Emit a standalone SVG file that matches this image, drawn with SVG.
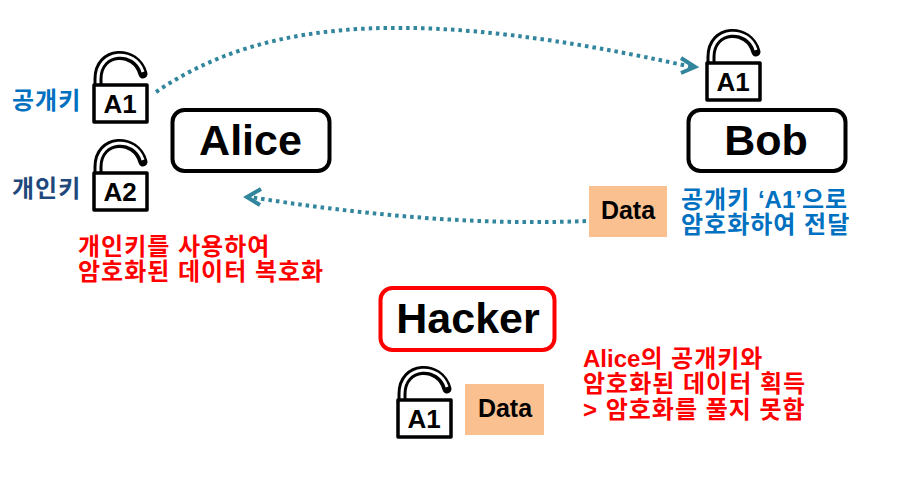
<svg xmlns="http://www.w3.org/2000/svg" width="907" height="492" viewBox="0 0 907 492">
<style>
text{font-family:"Liberation Sans","Noto Sans CJK KR",sans-serif;font-weight:700}
.node{fill:#fff;stroke:#000;stroke-width:4}
.name{font-size:43px;text-anchor:middle;fill:#000}
.ko{font-size:24px;letter-spacing:1px}
.lat{letter-spacing:0}
.red{fill:#f00}.blue{fill:#0070c0}.navy{fill:#1f497d}
.lbl{font-size:26px;text-anchor:middle;fill:#000}
.data{font-size:25px;text-anchor:middle;fill:#000}
.box{fill:#fac090}
.flow{fill:none;stroke:#31859c;stroke-width:4;stroke-dasharray:3.5 4}
.head{fill:none;stroke:#31859c;stroke-width:4}
.lock{fill:#fff;stroke:#000;stroke-width:3.5;stroke-linejoin:round}
.sh1{fill:none;stroke:#000;stroke-width:9;stroke-linecap:round}
.sh2{fill:none;stroke:#fff;stroke-width:3}
</style>
<defs>
<g id="lk">
<path class="sh1" d="M4 1V-6C4-36 42-37 49-11"/>
<path class="sh2" d="M4 1V-6C4-36 42-37 49-13"/>
<rect class="lock" x="0" y="0" width="53" height="37"/>
</g>
</defs>
<g id="connectors">
<path class="flow" d="M156 92C270 14 430 9 692 67"/>
<path class="head" d="M681 58L695 67L681 73"/>
<path class="flow" d="M586 221C470 226 350 213 250 197"/>
<path class="head" d="M261 189L247 197L260 205"/>
</g>
<g id="alice"><rect class="node" x="172.500" y="110" width="157" height="61" rx="12"/><text class="name" x="250.500" y="155">Alice</text></g>
<g id="bob"><rect class="node" x="688.500" y="110" width="157" height="61" rx="12"/><text class="name" x="766" y="155">Bob</text></g>
<g id="hacker"><rect class="node" style="stroke:#f00" x="380.500" y="288" width="174" height="62" rx="12"/><text class="name" x="468" y="333">Hacker</text></g>
<g id="lock-a1-alice"><use href="#lk" x="94" y="85"/><text class="lbl" x="120" y="113">A1</text></g>
<g id="lock-a2-alice"><use href="#lk" x="94" y="173"/><text class="lbl" x="120" y="201">A2</text></g>
<g id="lock-a1-bob"><use href="#lk" x="707" y="63"/><text class="lbl" x="733" y="91">A1</text></g>
<g id="lock-a1-hacker"><use href="#lk" x="398" y="400"/><text class="lbl" x="424" y="428">A1</text></g>
<g id="data-bob"><rect class="box" x="589" y="186" width="78" height="51"/><text class="data" x="628" y="219">Data</text></g>
<g id="data-hacker"><rect class="box" x="465" y="384" width="79" height="51"/><text class="data" x="505" y="417">Data</text></g>
<g id="labels">
<text class="ko blue" x="12" y="109">공개키</text>
<text class="ko navy" x="12" y="197">개인키</text>
<text class="ko red" x="78" y="255">개인키를 사용하여</text>
<text class="ko red" x="78" y="280">암호화된 데이터 복호화</text>
<text class="ko blue" x="681" y="208">공개키 <tspan class="lat">‘A1’</tspan>으로</text>
<text class="ko blue" x="681" y="233">암호화하여 전달</text>
<text class="ko red" x="583" y="367"><tspan class="lat">Alice</tspan>의 공개키와</text>
<text class="ko red" x="583" y="392">암호화된 데이터 획득</text>
<text class="ko red" x="583" y="418">&gt; 암호화를 풀지 못함</text>
</g>
</svg>
